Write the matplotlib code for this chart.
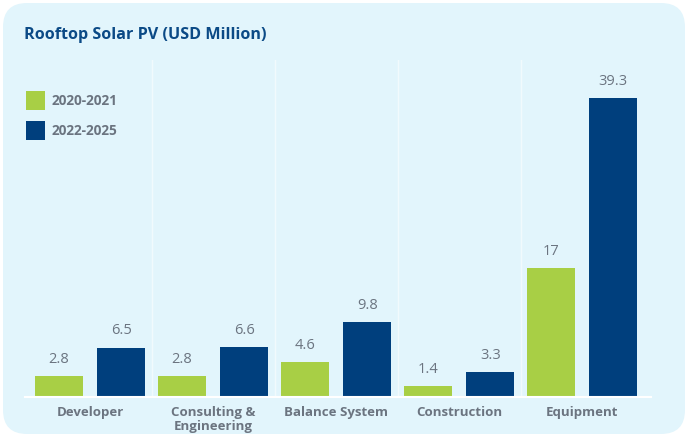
import matplotlib.pyplot as plt
import numpy as np
from matplotlib.patches import FancyBboxPatch, Rectangle

categories = ['Developer', 'Consulting &\nEngineering', 'Balance System', 'Construction', 'Equipment']
series_names = ['2020-2021', '2022-2025']
values_2020 = [2.8, 2.8, 4.6, 1.4, 17]
values_2022 = [6.5, 6.6, 9.8, 3.3, 39.3]

green = '#a8cf45'
blue = '#003f7d'
bg = '#e2f5fc'
grey = '#6b7480'
title_col = '#0b4a86'

plt.rcParams['font.family'] = ['Open Sans', 'DejaVu Sans']

W, H = 687, 437
fig = plt.figure(figsize=(W / 100, H / 100), dpi=100)
fig.patch.set_facecolor('white')

# rounded light-blue card behind everything
card = FancyBboxPatch((3 / W, 3 / H), 682 / W, 431 / H,
                      boxstyle='round,pad=0,rounding_size=0.035',
                      transform=fig.transFigure, facecolor=bg, edgecolor='none',
                      mutation_aspect=W / H, zorder=0)
fig.patches.append(card)

ax = fig.add_axes([28.5 / W, 40 / H, 615 / W, 337 / H])
ax.set_facecolor('none')
ax.set_zorder(2)

x = np.arange(len(categories))
w = 0.39
off = 0.254
b1 = ax.bar(x - off, values_2020, w, color=green, zorder=3)
b2 = ax.bar(x + off, values_2022, w, color=blue, zorder=3)

for bars, vals in [(b1, values_2020), (b2, values_2022)]:
    for r, v in zip(bars, vals):
        ax.text(r.get_x() + r.get_width() / 2, v + 1.2, f'{v:g}',
                ha='center', va='bottom', fontsize=10.5, color=grey)

ax.set_xlim(-0.5, len(categories) - 0.5)
ax.set_ylim(0, 44.3)

# faint white dividers between groups
for xv in x[:-1] + 0.5:
    ax.axvline(xv, color='white', lw=1.0, alpha=0.55, zorder=1)
ax.axhline(0, xmin=-0.006, xmax=1.012, color='white', lw=1.5, zorder=4, clip_on=False)

for s in ax.spines.values():
    s.set_visible(False)
ax.set_yticks([])
ax.set_xticks(x)
ax.set_xticklabels(categories, fontsize=9.5, fontweight='bold', color=grey, linespacing=1.1)
ax.tick_params(axis='x', length=0, pad=6.5)

fig.text(24 / W, 1 - 35 / H, 'Rooftop Solar PV (USD Million)', fontsize=11.6,
         fontweight='bold', color=title_col, va='center', ha='left')

# legend drawn by hand: squares + labels
for i, (name, col) in enumerate(zip(series_names, [green, blue])):
    y0 = 91 + i * 30
    fig.patches.append(Rectangle((26 / W, 1 - (y0 + 19) / H), 19 / W, 19 / H,
                                 transform=fig.transFigure, facecolor=col,
                                 edgecolor='none', zorder=3))
    fig.text(52 / W, 1 - (y0 + 10) / H, name, fontsize=9.8, fontweight='bold',
             color=grey, va='center', ha='left', zorder=3)

fig.savefig('out.png', dpi=100, facecolor='white')
